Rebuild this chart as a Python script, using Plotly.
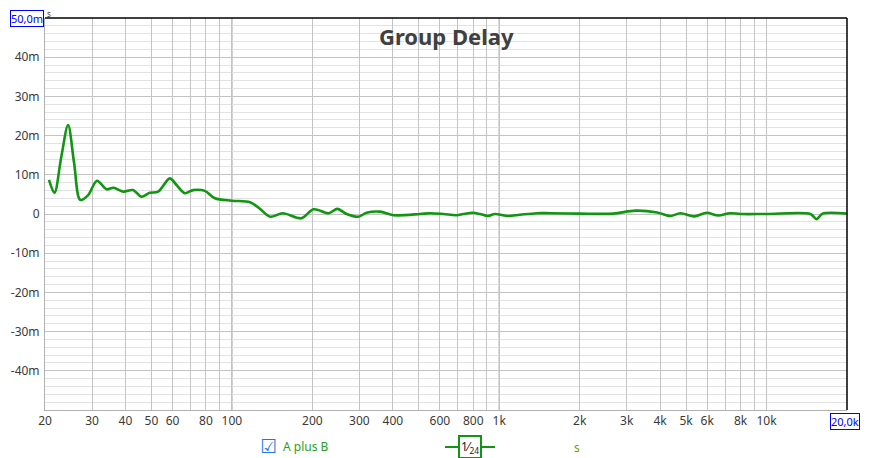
import numpy as np
import plotly.graph_objs as go

# Group delay readings (A plus B), 1/24 octave smoothing
freq_hz = [20.7, 21.7, 23.0, 24.4, 25.7, 27.1, 29.0, 31.3, 34.0, 36.1, 39.2, 42.7,
           45.9, 49.3, 53.0, 58.6, 62.1, 66.7, 71.6, 79.2, 86.4, 100, 117, 127,
           139, 155, 182, 202, 230, 248, 269, 297, 319, 358, 402, 506, 551, 618,
           693, 734, 797, 847, 909, 963, 1081, 1196, 1383, 1552, 2000, 2670, 3230,
           3900, 4370, 4760, 5370, 5970, 6600, 7300, 8000, 10000, 14600, 15400,
           16200, 20000]
delay_ms = [8.7, 5.4, 14.5, 22.7, 13.0, 3.6, 4.8, 8.5, 6.3, 6.7, 5.7, 6.1,
            4.4, 5.4, 5.7, 9.1, 7.4, 5.3, 6.1, 5.9, 4.0, 3.4, 3.0, 1.4,
            -0.7, 0.2, -1.1, 1.2, 0.2, 1.3, 0.0, -0.7, 0.3, 0.6, -0.3, 0.0, 0.2, 0.0,
            -0.3, 0.0, 0.3, 0.0, -0.5, 0.0, -0.5, -0.2, 0.2, 0.2, 0.1, 0.1, 0.85,
            0.4, -0.5, 0.2, -0.6, 0.3, -0.4, 0.2, 0.0, 0.0, 0.0, -1.3,
            0.1, 0.1]

# axis ticks
x_tickvals = [20, 30, 40, 50, 60, 70, 80, 90,
              100, 200, 300, 400, 500, 600, 700, 800, 900,
              1000, 2000, 3000, 4000, 5000, 6000, 7000, 8000, 9000, 10000, 20000]
x_ticktext = ['20', '30', '40', '50', '60', '', '80', '',
              '100', '200', '300', '400', '', '600', '', '800', '',
              '1k', '2k', '3k', '4k', '5k', '6k', '', '8k', '', '10k', '']
decades = [100, 1000, 10000]
y_tickvals = [-40, -30, -20, -10, 0, 10, 20, 30, 40]
y_ticktext = ['-40m', '-30m', '-20m', '-10m', '0', '10m', '20m', '30m', '40m']

# page body has an 8px margin, so the figure is drawn 8px in from the window corner
OFF = 8
W, H = 869 - OFF, 458 - OFF
# plot area in window pixels
L, R, T, B = 45, 847, 18, 410


def px(x):
    return (x - L) / (R - L)


def py(y):
    return (B - y) / (B - T)


trace = go.Scatter(x=freq_hz, y=delay_ms, mode='lines', name='A plus B',
                   line=dict(color='rgb(16,150,16)', width=2.6,
                             shape='spline', smoothing=0.9))

font = dict(family='Noto Sans, sans-serif', size=12, color='#3a3a3a')

layout = go.Layout(
    width=W, height=H,
    margin=dict(l=L - OFF, r=W - (R - OFF), t=T - OFF, b=H - (B - OFF), autoexpand=False),
    paper_bgcolor='white', plot_bgcolor='white',
    showlegend=False,
    font=font,
    xaxis=dict(type='log', range=[np.log10(20), np.log10(20000)],
               tickvals=x_tickvals, ticktext=x_ticktext, ticks='',
               showgrid=True, gridcolor='#c4c4c4', gridwidth=1,
               showline=True, linecolor='#b0b0b0', linewidth=1,
               zeroline=False, tickfont=font, automargin=False),
    yaxis=dict(range=[-50, 50], tickvals=y_tickvals, ticktext=y_ticktext,
               ticks='', showgrid=True, gridcolor='#c4c4c4', gridwidth=1,
               minor=dict(dtick=2, tick0=0, showgrid=True,
                          gridcolor='#e2e2e2', gridwidth=1),
               showline=True, linecolor='#b0b0b0', linewidth=1,
               zeroline=False, tickfont=font, automargin=False, ticklabelstandoff=2),
)

fig = go.Figure(data=[trace], layout=layout)

# darker decade lines
for d in decades:
    fig.add_shape(type='line', x0=d, x1=d, y0=0, y1=1, xref='x', yref='paper',
                  line=dict(color='#808080', width=1), layer='between')

# black top and right borders
fig.add_shape(type='line', x0=0, x1=1, y0=1, y1=1, xref='paper', yref='paper',
              line=dict(color='black', width=1.5))
fig.add_shape(type='line', x0=1, x1=1, y0=0, y1=1, xref='paper', yref='paper',
              line=dict(color='black', width=1.5))


def note(text, x, y, **kw):
    fig.add_annotation(text=text, x=px(x), y=py(y), xref='paper', yref='paper',
                       xanchor=kw.pop('xanchor', 'center'), yanchor='middle',
                       showarrow=False, **kw)


# title
note('<b>Group Delay</b>', 446, 36,
     font=dict(family='Noto Sans, sans-serif', size=22, color='#404040'))

# axis unit and range end boxes
note('50,0m', 27, 19, bordercolor='blue', borderwidth=1, borderpad=0, bgcolor='white',
     font=dict(family='Noto Sans, sans-serif', size=11, color='blue'))
note('s', 49, 13.5, font=dict(size=8, color='#404040'))
note('20,0k', 845, 422, bordercolor='blue', borderwidth=1, borderpad=0, bgcolor='white',
     font=dict(family='Noto Sans, sans-serif', size=11, color='blue'))

# legend row
note('☑', 268, 446, font=dict(family='DejaVu Sans', size=19, color='#1e78e0'))
note('A plus B', 281, 446, xanchor='left',
     font=dict(family='Noto Sans, sans-serif', size=12, color='#2aa01e'))
fig.add_shape(type='line', x0=px(445), x1=px(495), y0=py(447), y1=py(447),
              xref='paper', yref='paper', line=dict(color='rgb(16,150,16)', width=2))
note('1⁄<sub>24</sub>', 470, 447, bgcolor='white', bordercolor='rgb(16,150,16)',
     borderwidth=2, borderpad=1,
     font=dict(family='Noto Sans, sans-serif', size=12, color='#222222'))
note('s', 577, 447, font=dict(family='Noto Sans, sans-serif', size=12, color='#6aa010'))

fig.write_html('out.html')
